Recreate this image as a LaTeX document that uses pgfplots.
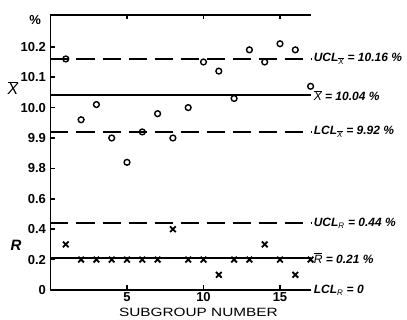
\documentclass[border=0pt]{standalone}
\usepackage{fontspec}
\setmainfont{Liberation Sans}
\usepackage{pgfplots}
\pgfplotsset{compat=1.18}
\pgfplotstableread{
n xbar
1 10.16
2 9.96
3 10.01
4 9.90
5 9.82
6 9.92
7 9.98
8 9.90
9 10.00
10 10.15
11 10.12
12 10.03
13 10.19
14 10.15
15 10.21
16 10.19
17 10.07
}\xbardata
\pgfplotstableread{
n r
1 0.30
2 0.20
3 0.20
4 0.20
5 0.20
6 0.20
7 0.20
8 0.40
9 0.20
10 0.20
11 0.10
12 0.20
13 0.20
14 0.30
15 0.20
16 0.10
17 0.20
}\rdata
\newcommand{\xb}{$\overline{\mathit{X}}$}
\newcommand{\sxb}{$_{\overline{\mathit{X}}}$}
\begin{document}
\begin{tikzpicture}
\useasboundingbox (-50.5pt,-30pt) rectangle (356.5pt,290pt);
\begin{axis}[
  anchor=origin, at={(0pt,0pt)},
  x=15.3pt, y=30.4pt,
  xmin=0, xmax=17, ymin=0, ymax=9.05,
  axis x line*=bottom, axis y line*=left,
  axis line style={line width=1.8pt},
  xtick={5,10,15}, xticklabels={5,10,15},
  ytick={0,1,2,3,4,5,6,7,8},
  yticklabels={0,0.2,0.4,0.6,9.8,9.9,10.0,10.1,10.2},
  tick align=inside, major tick length=4.5pt,
  tick style={line width=1.5pt, black},
  ticklabel style={font=\fontsize{13}{13}\selectfont\bfseries},
  xticklabel style={yshift=1pt},
  yticklabel style={xshift=-1pt},
  clip=false,
  xbarfilter/.style={y filter/.expression={(y-9.8)*10+4}},
  rfilter/.style={y filter/.expression={y*5}},
  ctl/.style={black, line width=1.9pt, no marks},
  lim/.style={black, line width=1.9pt, no marks, dash pattern=on 18pt off 8pt},
]
% X-bar control lines
\addplot[lim, xbarfilter] coordinates {(0,10.16) (17,10.16)};
\addplot[ctl, xbarfilter] coordinates {(0,10.04) (17,10.04)};
\addplot[lim, xbarfilter] coordinates {(0,9.92) (17,9.92)};
% R control lines
\addplot[lim, rfilter] coordinates {(0,0.44) (17,0.44)};
\addplot[ctl, rfilter] coordinates {(0,0.21) (17,0.21)};
% data
\addplot[only marks, mark=o, mark size=2.9pt, line width=1.4pt, black, xbarfilter] table[x=n, y=xbar] {\xbardata};
\addplot[only marks, mark=x, mark size=4pt, line width=1.8pt, black, rfilter] table[x=n, y=r] {\rdata};
% top frame line with ticks
\draw[line width=1.8pt] (axis cs:0,9.05) -- (axis cs:17,9.05);
\draw[line width=1.5pt] (axis cs:5,9.05) -- ++(0,-4.5pt);
\draw[line width=1.5pt] (axis cs:10,9.05) -- ++(0,-4.5pt);
\draw[line width=1.5pt] (axis cs:15,9.05) -- ++(0,-4.5pt);
% right-hand labels
\begin{scope}[every node/.style={anchor=west, font=\fontsize{12}{12}\selectfont\bfseries\itshape, inner sep=0pt, xshift=3pt}]
\node at (axis cs:17,7.6) {UCL\sxb{} = 10.16 \%};
\node at (axis cs:17,6.4) {\xb{} = 10.04 \%};
\node at (axis cs:17,5.2) {LCL\sxb{} = 9.92 \%};
\node at (axis cs:17,2.2) {UCL$_{\mathit{R}}$ = 0.44 \%};
\node at (axis cs:17,1.05) {$\overline{\mathit{R}}$ = 0.21 \%};
\node at (axis cs:17,0) {LCL$_{\mathit{R}}$ = 0};
\end{scope}
% left labels
\node[font=\fontsize{13}{13}\selectfont\bfseries] at (axis cs:-1.0,8.88) {\%};
\node[font=\fontsize{16}{16}\selectfont] at (axis cs:-2.45,6.64) {\xb};
\node[font=\fontsize{15}{15}\selectfont\bfseries\itshape] at (axis cs:-2.25,1.48) {R};
% x label
\node at (axis cs:9.67,-0.72) {\scalebox{1.28}[1]{\fontsize{12}{12}\selectfont SUBGROUP NUMBER}};
\end{axis}
\end{tikzpicture}
\end{document}
